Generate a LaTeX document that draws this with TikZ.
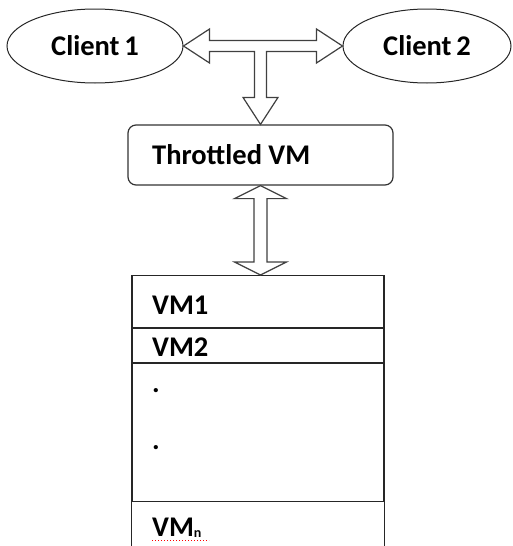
\documentclass[tikz,border=0pt]{standalone}
\usepackage{fontspec}
\setmainfont{Carlito}
\usetikzlibrary{calc,shapes.geometric}
\begin{document}
\begin{tikzpicture}[x=1pt,y=-1pt,
  lbl/.style={font=\fontsize{28.5}{31}\selectfont\bfseries, inner sep=0pt},
  outline/.style={draw=black!85, line width=1pt},
  client/.style={ellipse, outline, minimum height=74pt, inner sep=0pt, font=\fontsize{28.5}{31}\selectfont\bfseries},
  cell/.style={draw=black!85, line width=1.1pt, minimum width=252pt, inner sep=0pt, anchor=north},
  blockarrow/.style={draw=black!75, line width=1.2pt, fill=white, line join=miter},
]
\useasboundingbox (0,0) rectangle (512,546);

% clients
\node[client, minimum width=176pt] (c1) at (95,46) {Client\,1};
\node[client, minimum width=168pt] (c2) at (427,46) {Client\,2};

% throttled VM box
\node[draw=black!80, line width=1.2pt, rounded corners=8pt, minimum width=265pt, minimum height=60pt, inner sep=0pt] (box) at (260.5,155) {};
\node[lbl, anchor=base west] (boxt) at (152,164) {Throttled VM};

% VM stack
\node[cell, minimum height=52pt] (vm1) at (258,275) {};
\node[cell, minimum height=34pt] (vm2) at (vm1.south) {};
\node[cell, minimum height=138pt] (gap) at (vm2.south) {};
\draw[draw=black!85, line width=1.1pt] (gap.south west) -- (gap.south west |- 0,546)
  (gap.south east) -- (gap.south east |- 0,546);

\node[lbl, anchor=base west] (t1) at (152,314) {VM1};
\node[lbl, anchor=base west] (t2) at (152,356) {VM2};
\node[lbl, anchor=base west] (d1) at (152,392) {.};
\node[lbl, anchor=base west] (d2) at (152,449) {.};
\node[lbl, anchor=base west] (tn) at (152,536) {VM\raisebox{-1pt}{\fontsize{14}{14}\selectfont n}};
\draw[red, line width=1pt, dotted] (152,540) -- (209,540);

% T-shaped block arrow: clients <-> throttled VM
\coordinate (L) at (c1.east);
\coordinate (R) at (c2.west);
\coordinate (S) at (box.north);
\draw[blockarrow] (L) -- ++(26,-17) -- ++(0,11.5) -- ($(R)+(-26,-5.5)$) -- ++(0,-11.5) -- (R)
  -- ++(-26,17) -- ++(0,-11.5) -- ($(S |- L)+(6,5.5)$) -- ($(S)+(6,-27)$) -- ++(11.5,0) -- (S)
  -- ++(-17.5,-27) -- ++(11.5,0) -- ($(S |- L)+(-6,5.5)$) -- ($(L)+(26,5.5)$) -- ++(0,11.5) -- cycle;

% vertical double block arrow: throttled VM <-> VM stack
\coordinate (T) at (box.south);
\coordinate (B) at (T |- vm1.north);
\draw[blockarrow] (T) -- ++(26,13) -- ++(-19.5,0) -- ($(B)+(6.5,-13)$) -- ++(19.5,0) -- (B)
  -- ++(-26,-13) -- ++(19.5,0) -- ($(T)+(-6.5,13)$) -- ++(-19.5,0) -- cycle;
\end{tikzpicture}
\end{document}
